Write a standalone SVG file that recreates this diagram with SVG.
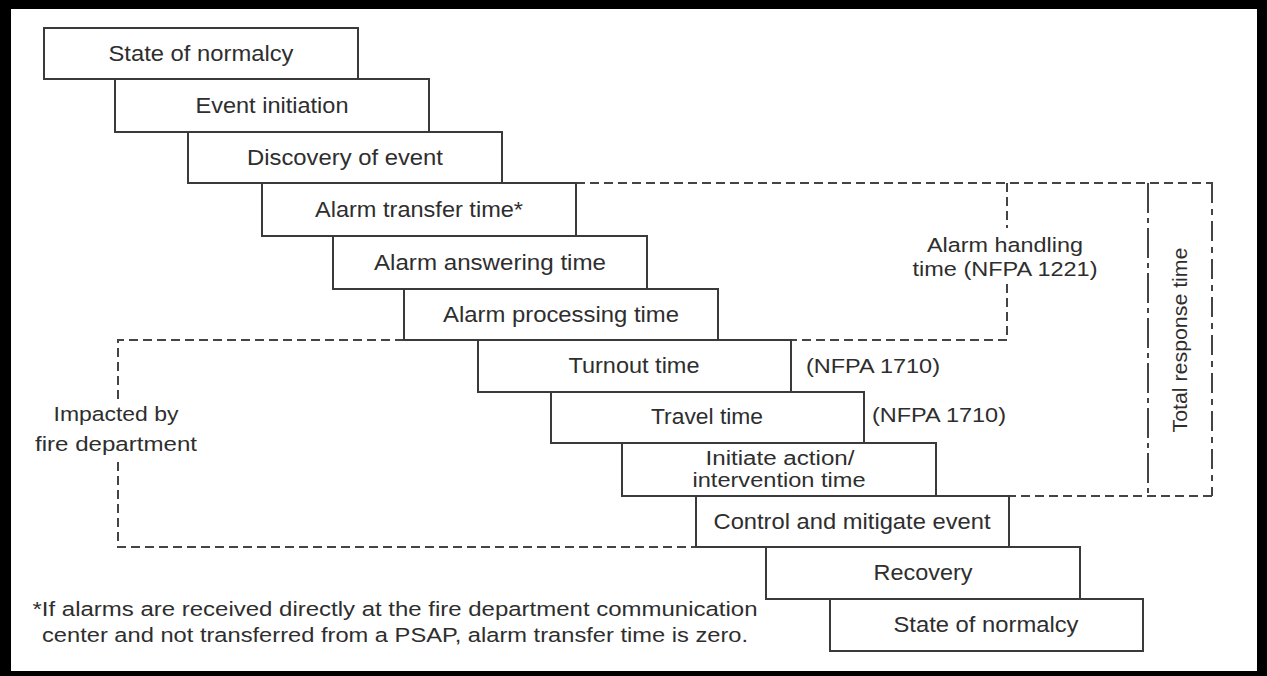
<svg xmlns="http://www.w3.org/2000/svg" width="1267" height="676" viewBox="0 0 1267 676">
<style>
.box rect{fill:#fff;stroke:#3a3a3a;stroke-width:2}
text{font-family:"Liberation Sans",Arial,sans-serif;fill:#2e2e2e}
.t{font-size:21.5px;text-anchor:middle}
.t2{font-size:19.5px;text-anchor:middle}
.lbl{font-size:20.5px}
.dash{fill:none;stroke:#444;stroke-width:2;stroke-dasharray:9,5}
.dd1{fill:none;stroke:#444;stroke-width:2;stroke-dasharray:30,5,5,5}
.dd2{fill:none;stroke:#444;stroke-width:2;stroke-dasharray:20,6,6,6}
</style>
<rect x="0" y="0" width="1267" height="676" fill="#000"/>
<rect x="11" y="9" width="1246" height="662" fill="#fff"/>

<g id="connectors">
  <path class="dash" d="M576,183 H1213"/>
  <path class="dash" d="M1007,183 V228 M1007,284 V340 H718"/>
  <path class="dd2" d="M1212,183 V496"/>
  <path class="dash" d="M1212,496 H936"/>
  <path class="dd1" d="M1148,183 V496"/>
  <path class="dash" d="M404,340 H118 V400 M118,462 V547 H696"/>
</g>

<g id="n1" class="box"><rect x="44" y="28" width="314" height="51"/><text class="t" x="201" y="61" textLength="185" lengthAdjust="spacingAndGlyphs">State of normalcy</text></g>
<g id="n2" class="box"><rect x="115" y="79" width="314" height="53"/><text class="t" x="272" y="113" textLength="153" lengthAdjust="spacingAndGlyphs">Event initiation</text></g>
<g id="n3" class="box"><rect x="188" y="132" width="314" height="51"/><text class="t" x="345" y="165" textLength="196" lengthAdjust="spacingAndGlyphs">Discovery of event</text></g>
<g id="n4" class="box"><rect x="262" y="183" width="314" height="53"/><text class="t" x="419" y="217" textLength="208" lengthAdjust="spacingAndGlyphs">Alarm transfer time*</text></g>
<g id="n5" class="box"><rect x="333" y="236" width="314" height="53"/><text class="t" x="490" y="270" textLength="232" lengthAdjust="spacingAndGlyphs">Alarm answering time</text></g>
<g id="n6" class="box"><rect x="404" y="289" width="314" height="51"/><text class="t" x="561" y="322" textLength="236" lengthAdjust="spacingAndGlyphs">Alarm processing time</text></g>
<g id="n7" class="box"><rect x="478" y="340" width="313" height="52"/><text class="t" x="634" y="373" textLength="131" lengthAdjust="spacingAndGlyphs">Turnout time</text></g>
<g id="n8" class="box"><rect x="551" y="392" width="313" height="51"/><text class="t" x="707" y="424" textLength="112" lengthAdjust="spacingAndGlyphs">Travel time</text></g>
<g id="n9" class="box"><rect x="622" y="443" width="314" height="53"/><text class="t2" x="780" y="465" textLength="149" lengthAdjust="spacingAndGlyphs">Initiate action/</text><text class="t2" x="779" y="487" textLength="173" lengthAdjust="spacingAndGlyphs">intervention time</text></g>
<g id="n10" class="box"><rect x="696" y="496" width="313" height="51"/><text class="t" x="852" y="529" textLength="277" lengthAdjust="spacingAndGlyphs">Control and mitigate event</text></g>
<g id="n11" class="box"><rect x="766" y="547" width="314" height="52"/><text class="t" x="923" y="580" textLength="99" lengthAdjust="spacingAndGlyphs">Recovery</text></g>
<g id="n12" class="box"><rect x="830" y="599" width="313" height="52"/><text class="t" x="986" y="632" textLength="185" lengthAdjust="spacingAndGlyphs">State of normalcy</text></g>

<g id="labels">
  <text class="lbl" x="1005" y="252" text-anchor="middle" textLength="156" lengthAdjust="spacingAndGlyphs">Alarm handling</text>
  <text class="lbl" x="1005" y="276" text-anchor="middle" textLength="185" lengthAdjust="spacingAndGlyphs">time (NFPA 1221)</text>
  <text class="lbl" x="806" y="373" textLength="134" lengthAdjust="spacingAndGlyphs">(NFPA 1710)</text>
  <text class="lbl" x="872" y="422" textLength="134" lengthAdjust="spacingAndGlyphs">(NFPA 1710)</text>
  <text class="lbl" transform="translate(1187,340) rotate(-90)" text-anchor="middle" textLength="185" lengthAdjust="spacingAndGlyphs">Total response time</text>
  <text class="lbl" x="116" y="421" text-anchor="middle" textLength="125" lengthAdjust="spacingAndGlyphs">Impacted by</text>
  <text class="lbl" x="116" y="451" text-anchor="middle" textLength="162" lengthAdjust="spacingAndGlyphs">fire department</text>
  <text class="lbl" x="395" y="616" text-anchor="middle" textLength="725" lengthAdjust="spacingAndGlyphs">*If alarms are received directly at the fire department communication</text>
  <text class="lbl" x="395" y="642" text-anchor="middle" textLength="706" lengthAdjust="spacingAndGlyphs">center and not transferred from a PSAP, alarm transfer time is zero.</text>
</g>
</svg>
